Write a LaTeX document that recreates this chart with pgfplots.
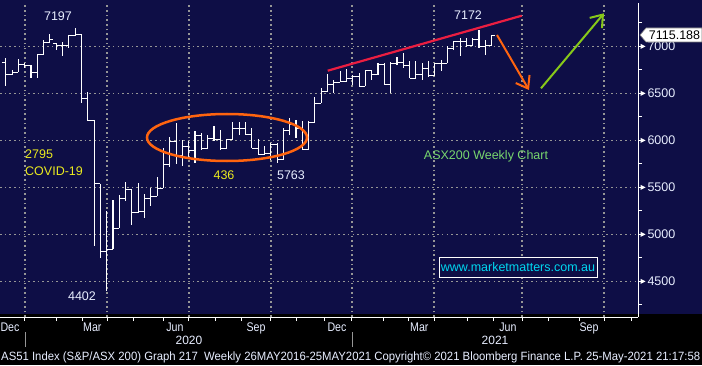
\documentclass[border=0pt]{standalone}
\usepackage{fontspec}
\setmainfont{Liberation Sans}
\usepackage{graphicx}
\usepackage{pgfplots}
\pgfplotsset{compat=1.18}
\usepackage{pgfplotstable}
\usetikzlibrary{arrows.meta}

\definecolor{navy}{RGB}{14,14,70}
\definecolor{gridc}{RGB}{150,150,150}
\definecolor{annyellow}{RGB}{235,235,30}
\definecolor{anngreen}{RGB}{120,215,110}
\definecolor{urlcyan}{RGB}{0,215,240}
\definecolor{ellorange}{RGB}{255,100,15}
\definecolor{trendred}{RGB}{235,30,65}
\definecolor{arrgreen}{RGB}{135,200,25}
\definecolor{txt}{RGB}{232,238,255}

\newcommand\ml[1]{\scalebox{0.85}[1]{#1}}

\pgfdeclareplotmark{otick}{\pgfpathmoveto{\pgfpoint{-3.3pt}{0pt}}\pgfpathlineto{\pgfpoint{0pt}{0pt}}\pgfusepathqstroke}
\pgfdeclareplotmark{ctick}{\pgfpathmoveto{\pgfpoint{0pt}{0pt}}\pgfpathlineto{\pgfpoint{3.3pt}{0pt}}\pgfusepathqstroke}
\pgfdeclareplotmark{rtri}{\pgfpathmoveto{\pgfpoint{2.5pt}{2.6pt}}\pgfpathlineto{\pgfpoint{7.5pt}{0pt}}\pgfpathlineto{\pgfpoint{2.5pt}{-2.6pt}}\pgfpathclose\pgfusepathqfill}

% weekly OHLC, ASX200 (k = week index, 0 = week of 23 Mar 2020)
\pgfplotstableread{
k H L O C
-16 6876 6581 6830 6698
-15 6751 6698 6698 6727
-14 6865 6727 6727 6804
-13 6822 6769 6804 6801
-12 6804 6663 6801 6727
-11 6911 6663 6727 6911
-10 7070 6911 6911 7043
-9 7131 7035 7043 7078
-8 7035 6957 7028 7006
-7 7043 6894 7006 7006
-6 7117 6982 7006 7117
-5 7197 7106 7117 7131
-4 7135 6400 7131 6441
-3 6511 6202 6441 6216
-2 6216 4878 6216 5539
-1 5539 4747 5539 4816
0 5244 4402 4816 4843
1 5368 4843 4843 5067
2 5421 5067 5067 5386
3 5556 5354 5386 5482
4 5482 5102 5482 5237
5 5546 5227 5237 5248
6 5432 5173 5248 5386
7 5492 5304 5386 5407
8 5609 5407 5407 5492
9 5918 5492 5492 5748
10 6032 5713 5748 5989
11 6184 5748 5989 5843
12 6003 5726 5843 5939
13 5992 5811 5939 5889
14 6098 5758 5889 6056
15 6077 5900 6056 5918
16 6059 5907 5918 6024
17 6149 5989 6024 6014
18 6113 5900 6014 5918
19 6014 5907 5918 6006
20 6191 6006 6006 6131
21 6191 6059 6131 6131
22 6191 6059 6131 6059
23 6131 5918 6059 5918
24 6014 5847 5918 5847
25 5936 5847 5847 5865
26 5971 5790 5865 5953
27 5971 5763 5953 5793
28 6131 5790 5793 6106
29 6237 6059 6106 6166
30 6216 6024 6166 6131
31 6205 5900 6131 5900
32 6205 5900 5900 6191
33 6461 6184 6191 6397
34 6553 6397 6397 6521
35 6708 6510 6521 6591
36 6645 6503 6591 6617
37 6740 6617 6617 6628
38 6762 6620 6628 6663
39 6698 6591 6663 6681
40 6716 6574 6681 6574
41 6745 6574 6574 6745
42 6745 6645 6745 6698
43 6822 6698 6698 6804
44 6822 6591 6804 6591
45 6830 6503 6591 6822
46 6886 6804 6822 6830
47 6929 6769 6830 6794
48 6847 6663 6794 6663
49 6847 6663 6663 6698
50 6822 6645 6698 6769
51 6840 6681 6769 6687
52 6822 6681 6687 6815
53 6857 6734 6815 6822
54 7000 6822 6822 6982
55 7053 6964 6982 7053
56 7088 6894 7053 7053
57 7088 7000 7053 7006
58 7088 7000 7006 7070
59 7172 6982 7070 7000
60 7064 6911 7000 7006
61 7120 7006 7006 7115
}\ohlc

\begin{document}
\begin{tikzpicture}[x=1pt,y=1pt]
\useasboundingbox (0,0) rectangle (702,365);
\clip (0,0) rectangle (702,365);
\fill[black] (0,0) rectangle (702,365);
\fill[navy] (0,51) rectangle (702,365);
\begin{axis}[
  at={(0,51)}, anchor=south west,
  width=638pt, height=314pt, scale only axis,
  xmin=-16.91, xmax=84.2, ymin=4120, ymax=7461,
  clip=false,
  axis x line*=bottom, axis y line*=right,
  axis line style={white, line width=1pt},
  xtick={-12.95,0.05,13.04,26.03,38.87,51.87,65.82,78.82},
  xticklabels={\ml{Dec},\ml{Mar},\ml{Jun},\ml{Sep},\ml{Dec},\ml{Mar},\ml{Jun},\ml{Sep}},
  minor xtick={-7.88,-3.76,4.17,9.08,17.32,21.44,30.15,34.59,43.94,47.90,57.10,61.22,69.94,74.85,83.10},
  ytick={4500,5000,5500,6000,6500,7000},
  minor ytick={4250,4750,5250,5750,6250,6750,7250},
  grid=major,
  major grid style={gridc, line width=1.2pt, dash pattern=on 1.6pt off 3.1pt},
  tick align=outside,
  major tick length=4pt, minor tick length=4pt,
  tick style={white, line width=1pt},
  /pgf/number format/assume math mode=true,
  /pgf/number format/1000 sep={},
  tick label style={font=\fontsize{12.5}{14}\selectfont, text=txt},
  xticklabel style={anchor=north east, xshift=-2pt, yshift=1.5pt},
  yticklabel style={anchor=west, xshift=2pt},
]
% high-low ranges with close ticks
\addplot[only marks, mark=ctick, white, line width=1.1pt,
  error bars/.cd, y dir=both, y explicit, error mark=none,
  error bar style={white, line width=1.1pt}]
  table[x=k, y=C, y error plus expr=\thisrow{H}-\thisrow{C}, y error minus expr=\thisrow{C}-\thisrow{L}] {\ohlc};
% open ticks
\addplot[only marks, mark=otick, white, line width=1.1pt] table[x=k, y=O] {\ohlc};
% right-axis tick pointers
\addplot[only marks, mark=rtri, white] coordinates {(84.2,4500) (84.2,5000) (84.2,5500) (84.2,6000) (84.2,6500) (84.2,7000)};
\end{axis}

% annotations
\draw[ellorange, line width=2.5pt] (227,227.5) ellipse [x radius=80, y radius=23.5];
\draw[trendred, line width=2.2pt] (327.7,294.3) -- (521.7,349.3);
\draw[ellorange, line width=2pt, -{Straight Barb[length=11pt,width=16pt]}] (497,330) -- (529,275);
\draw[arrgreen, line width=2pt, -{Straight Barb[length=11pt,width=16pt]}] (541,276.7) -- (604,351.7);

\begin{scope}[every node/.style={font=\fontsize{12.5}{14}\selectfont, inner sep=0pt}]
\node[text=txt] at (58,349) {7197};
\node[text=txt] at (82,69) {4402};
\node[text=annyellow, anchor=west] at (25,211) {2795};
\node[text=annyellow, anchor=west] at (25,194) {COVID-19};
\node[text=annyellow] at (224,190) {436};
\node[text=txt] at (291,190) {5763};
\node[text=txt] at (468,350) {7172};
\node[text=anngreen] at (486,209) {ASX200 Weekly Chart};
\draw[white, line width=1pt, fill=navy] (439,88) rectangle (597,108);
\node[text=urlcyan] at (518,98) {www.marketmatters.com.au};
% last price label
\draw[gray, line width=0.6pt, fill=white] (640,330) -- (646,337) -- (702,337) -- (702,323) -- (646,323) -- cycle;
\node[text=black] at (674.5,330) {7115.188};
% year row
\draw[gridc, line width=1pt] (25,18) -- (25,33);
\draw[gridc, line width=1pt] (352,18) -- (352,33);
\node[text=txt, font=\fontsize{12}{14}\selectfont] at (189,25) {2020};
\node[text=txt, font=\fontsize{12}{14}\selectfont] at (495,25) {2021};
\node[text=txt, anchor=west, font=\fontsize{12}{14}\selectfont] at (1,7.5) {\resizebox{699pt}{\height}{AS51 Index (S\&P/ASX 200) Graph 217\ \ Weekly 26MAY2016-25MAY2021 Copyright© 2021 Bloomberg Finance L.P. 25-May-2021 21:17:58}};
\end{scope}
\end{tikzpicture}
\end{document}
